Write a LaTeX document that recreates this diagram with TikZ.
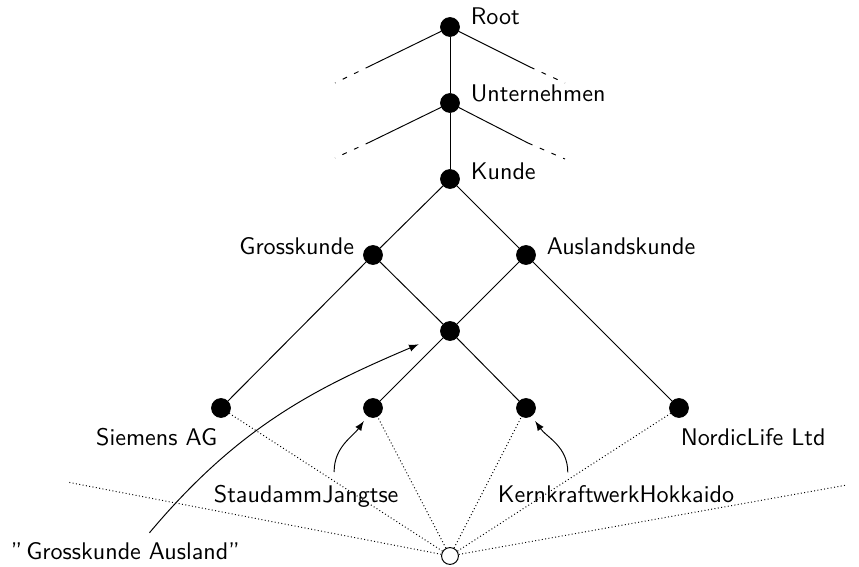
\documentclass[tikz,border=0pt]{standalone}
\usepackage{tikz}
\usetikzlibrary{positioning, arrows, calc}
\tikzset{
    dot/.style={circle, fill=black, draw=black, inner sep=0pt, minimum size=7.8pt},
    odot/.style={circle, fill=white, draw=black, line width=0.4pt, inner sep=0pt, minimum size=7pt},
    lbl/.style={inner sep=1pt, font=\sffamily},
    edge/.style={line width=0.4pt},
    inst/.style={line width=0.4pt, densely dotted},
    fade/.style={line width=0.4pt, dash pattern=on 2pt off 3.3pt},
    hint/.style={line width=0.4pt, -latex},
}
\begin{document}
\begin{tikzpicture}[x=0.415pt, y=-0.415pt]
        \useasboundingbox (0,0) rectangle (859,567);
        % lattice
        \node [dot] (root) at (450,27) {};
        \node [dot] (untern) at (450,103) {};
        \node [dot] (kunde) at (450,179) {};
        \node [dot] (gross) at (373,255) {};
        \node [dot] (ausland) at (526,255) {};
        \node [dot] (meet) at (450,331) {};
        \node [dot] (siemens) at (221,408) {};
        \node [dot] (stau) at (373,408) {};
        \node [dot] (kern) at (526,408) {};
        \node [dot] (nordic) at (679,408) {};
        \node [odot] (bot) at (450,556) {};
        % labels
        \node [lbl, anchor=base west] (rootlbl) at (468,25) {Root};
        \node [lbl, anchor=base west] (unternlbl) at (468,102) {Unternehmen};
        \node [lbl, anchor=base west] (kundelbl) at (468,180) {Kunde};
        \node [lbl, anchor=base east] (grosslbl) at (357,255) {Grosskunde};
        \node [lbl, anchor=base west] (auslandlbl) at (544,255) {Auslandskunde};
        \node [lbl, anchor=base east] (siemenslbl) at (220,446) {Siemens AG};
        \node [lbl, anchor=base west] (nordiclbl) at (678,446) {NordicLife Ltd};
        \node [lbl, anchor=base west] (staulbl) at (211,503) {StaudammJangtse};
        \node [lbl, anchor=base west] (kernlbl) at (495,503) {KernkraftwerkHokkaido};
        \node [lbl, anchor=base west] (gklbl) at (8,560) {''\,Grosskunde Ausland''};
        % open ends
        \coordinate (rl1) at (370,66);
        \coordinate (rl2) at (335,83);
        \coordinate (rr1) at (530,67);
        \coordinate (rr2) at (565,83);
        \coordinate (ul1) at (370,142);
        \coordinate (ul2) at (335,158);
        \coordinate (ur1) at (528,143);
        \coordinate (ur2) at (565,159);
        \coordinate (far1) at (67,482);
        \coordinate (far2) at (847,485);
        \draw[edge] (root) -- (untern) -- (kunde);
        \draw[edge] (root) -- (rl1);
        \draw[fade] (rl1) -- (rl2);
        \draw[edge] (root) -- (rr1);
        \draw[fade] (rr1) -- (rr2);
        \draw[edge] (untern) -- (ul1);
        \draw[fade] (ul1) -- (ul2);
        \draw[edge] (untern) -- (ur1);
        \draw[fade] (ur1) -- (ur2);
        \draw[edge] (kunde) -- (gross);
        \draw[edge] (kunde) -- (ausland);
        \draw[edge] (gross) -- (meet);
        \draw[edge] (ausland) -- (meet);
        \draw[edge] (gross) -- (siemens);
        \draw[edge] (ausland) -- (nordic);
        \draw[edge] (meet) -- (stau);
        \draw[edge] (meet) -- (kern);
        \draw[inst] (bot) -- (siemens);
        \draw[inst] (bot) -- (stau);
        \draw[inst] (bot) -- (kern);
        \draw[inst] (bot) -- (nordic);
        \draw[inst] (bot) -- (far1);
        \draw[inst] (bot) -- (far2);
        \draw[hint, shorten >=10pt] ([xshift=10pt, yshift=3pt]gklbl.north) to[out=50, in=203] (meet);
        \draw[hint, shorten >=2.5pt] ([xshift=11.6pt, yshift=4.5pt]staulbl.north) to[out=90, in=235] (stau);
        \draw[hint, shorten >=2.5pt] ([xshift=-20pt, yshift=4.5pt]kernlbl.north) to[out=90, in=-55] (kern);
    \end{tikzpicture}
\end{document}
